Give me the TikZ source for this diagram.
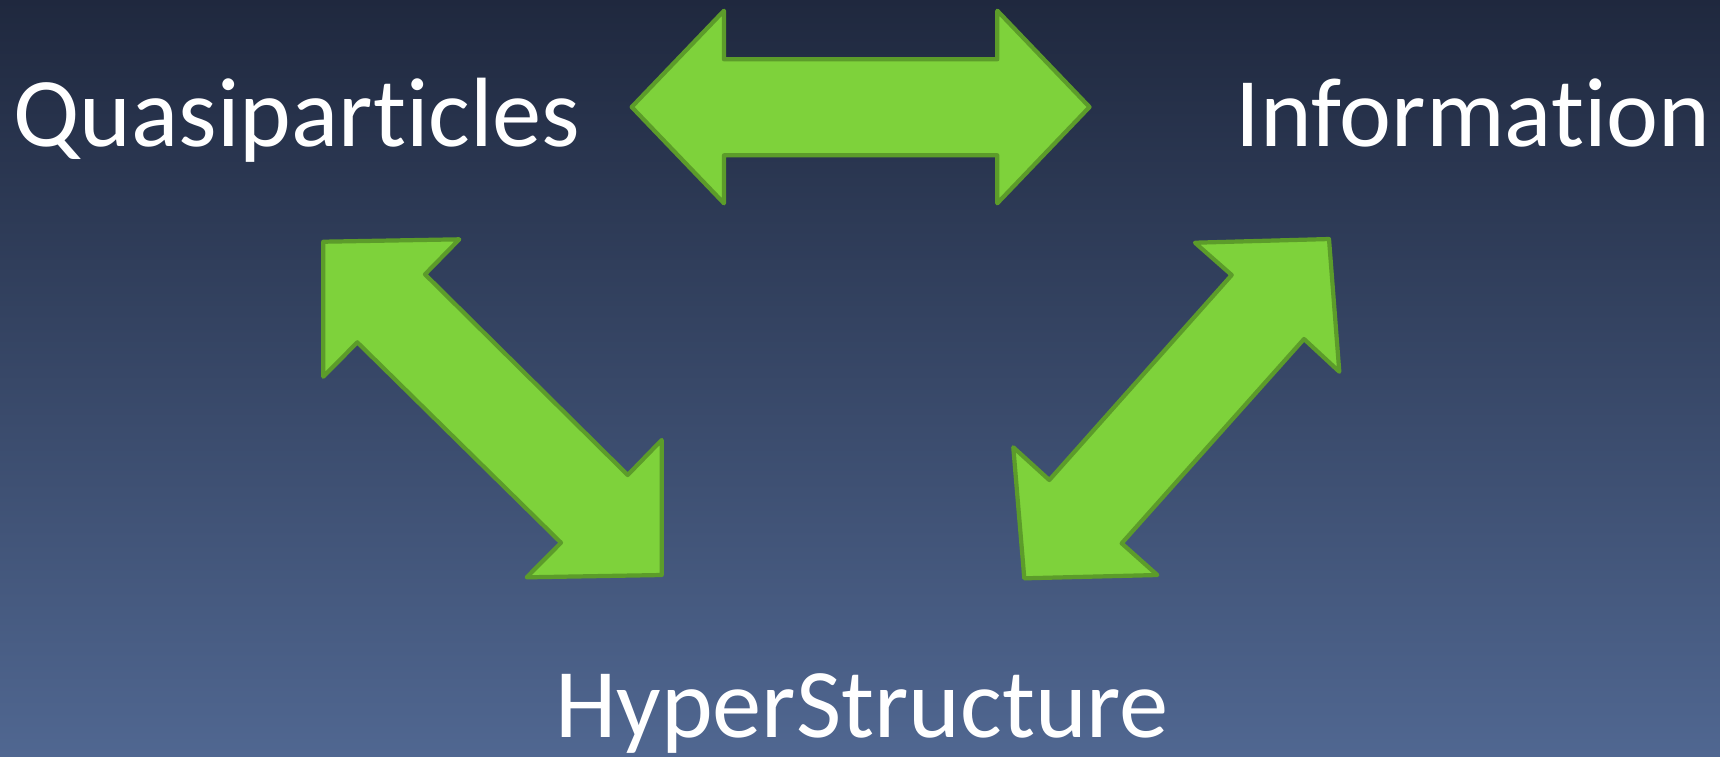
\documentclass[tikz,border=0pt]{standalone}
\usepackage{fontspec}
\setmainfont{Carlito}[Ligatures=NoCommon]
\usepackage{tikz}
\usetikzlibrary{backgrounds}
\definecolor{bgtop}{HTML}{1F283E}
\definecolor{bgbot}{HTML}{506791}
\definecolor{arrowfill}{HTML}{7ED23B}
\definecolor{arrowline}{HTML}{5C9C2A}
\begin{document}
\begin{tikzpicture}[x=0.01cm,y=-0.01cm,
  term/.style={text=white,inner sep=0pt,font=\fontsize{28}{32}\selectfont},
  blockarrow/.style={fill=arrowfill,draw=arrowline,line width=1.2pt,line join=round}]
\shade[top color=bgtop,bottom color=bgbot] (0,0) rectangle (1720,756);
\useasboundingbox (0,0) rectangle (1720,756);
\node[term,anchor=base west] (quasi) at (13,146) {Quasiparticles};
\node[term,anchor=base east] (info) at (1711,146) {Information};
\node[term,anchor=base] (hyper) at (862,737) {HyperStructure};
\draw[blockarrow] (631.7,107) -- (724,10.7) -- (724,59.3) -- (997.3,59.3) -- (997.3,10.7)
  -- (1089.5,107) -- (997.3,203.3) -- (997.3,155.3) -- (724,155.3) -- (724,203.3) -- cycle;
\draw[blockarrow] (323.3,241.7) -- (459.3,239.3) -- (425,274.3) -- (627.7,475) -- (661.7,440)
  -- (661.7,575) -- (526.7,577.3) -- (561,542.7) -- (357.3,342.3) -- (323.3,376.7) -- cycle;
\draw[blockarrow] (1329,239) -- (1339.3,371.7) -- (1304,339) -- (1121.7,543.3) -- (1157.3,575)
  -- (1024.3,578.3) -- (1013.3,447.3) -- (1049.3,480) -- (1231.7,275) -- (1195,242.7) -- cycle;
\end{tikzpicture}
\end{document}
